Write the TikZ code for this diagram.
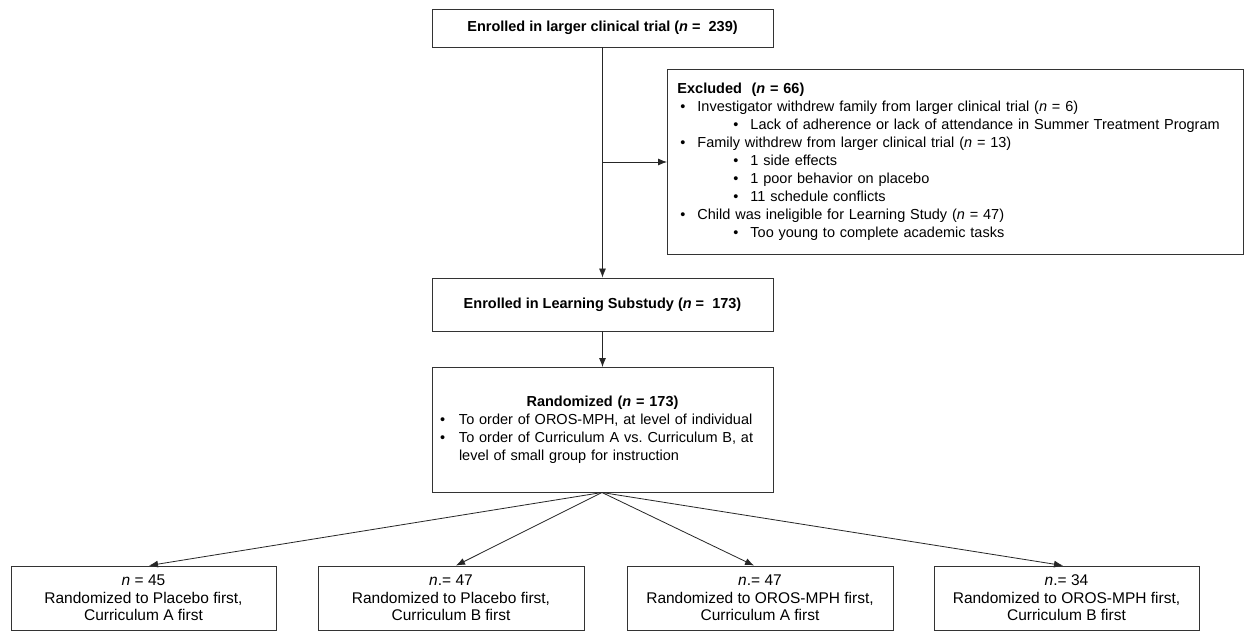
\documentclass[tikz,border=0pt]{standalone}
\usepackage{fontspec}
\setmainfont{Liberation Sans}
\usetikzlibrary{arrows.meta}
\frenchspacing
\begin{document}
\begin{tikzpicture}[x=1pt,y=-1pt,
  box/.style={draw=black!80,line width=0.9pt,inner sep=0pt,fill=white},
  arr/.style={-{Latex[length=9pt,width=7pt]},line width=0.8pt,draw=black!85},
  txt/.style={font=\fontsize{14.5}{18}\selectfont},
  btxt/.style={font=\fontsize{15.5}{17.5}\selectfont},
  ttl/.style={font=\fontsize{14.5}{18}\selectfont\bfseries}]
\useasboundingbox (0,0) rectangle (1248,635);
\fill[white] (0,0) rectangle (1248,635);

\node[box,ttl,minimum width=341,minimum height=38] (top) at (602.5,28)
  {Enrolled in larger clinical trial (\textit{n} =\ \ 239)};

\node[box,txt,anchor=north west,minimum width=576,minimum height=185,
      text width=556,inner xsep=10,align=left] (excl) at (667,69)
  {\textbf{Excluded\ \ (\textit{n} = 66)}\\
   \hspace*{3pt}\makebox[17pt][l]{•}Investigator withdrew family from larger clinical trial (\textit{n} = 6)\\
   \hspace*{56pt}\makebox[17pt][l]{•}Lack of adherence or lack of attendance in Summer Treatment Program\\
   \hspace*{3pt}\makebox[17pt][l]{•}Family withdrew from larger clinical trial (\textit{n} = 13)\\
   \hspace*{56pt}\makebox[17pt][l]{•}1 side effects\\
   \hspace*{56pt}\makebox[17pt][l]{•}1 poor behavior on placebo\\
   \hspace*{56pt}\makebox[17pt][l]{•}11 schedule conflicts\\
   \hspace*{3pt}\makebox[17pt][l]{•}Child was ineligible for Learning Study (\textit{n} = 47)\\
   \hspace*{56pt}\makebox[17pt][l]{•}Too young to complete academic tasks};

\node[box,ttl,minimum width=341,minimum height=53] (learn) at (602.5,304.5)
  {Enrolled in Learning Substudy (\textit{n} =\ \ 173)};

\node[box,txt,minimum width=341,minimum height=125,text width=331,
      inner xsep=5,align=left] (rand) at (602.5,430)
  {\makebox[331pt][c]{\textbf{Randomized (\textit{n} = 173)}}\\
   \hspace*{3pt}\makebox[19pt][l]{•}To order of OROS-MPH, at level of individual\\
   \hspace*{3pt}\makebox[19pt][l]{•}To order of Curriculum A vs. Curriculum B, at\\
   \hspace*{22pt}level of small group for instruction};

\node[box,btxt,minimum width=265,minimum height=64,align=center] (b1) at (143.5,598)
  {\textit{n} = 45\\Randomized to Placebo first,\\Curriculum A first};
\node[box,btxt,minimum width=266,minimum height=64,align=center] (b2) at (451,598)
  {\textit{n}.= 47\\Randomized to Placebo first,\\Curriculum B first};
\node[box,btxt,minimum width=266,minimum height=64,align=center] (b3) at (760,598)
  {\textit{n}.= 47\\Randomized to OROS-MPH first,\\Curriculum A first};
\node[box,btxt,minimum width=265,minimum height=64,align=center] (b4) at (1066.5,598)
  {\textit{n}.= 34\\Randomized to OROS-MPH first,\\Curriculum B first};

\coordinate (split) at (602,162);
\coordinate (rb) at (602,492.5);

\draw[arr] (top.south) -- (learn.north);
\draw[arr] (split) -- (split -| excl.west);
\draw[arr] (learn.south) -- (rand.north);
\draw[arr] (rb) -- (b1.north -| 149,0);
\draw[arr] (rb) -- (b2.north -| 456,0);
\draw[arr] (rb) -- (b3.north -| 754,0);
\draw[arr] (rb) -- (b4.north -| 1063,0);
\end{tikzpicture}
\end{document}
